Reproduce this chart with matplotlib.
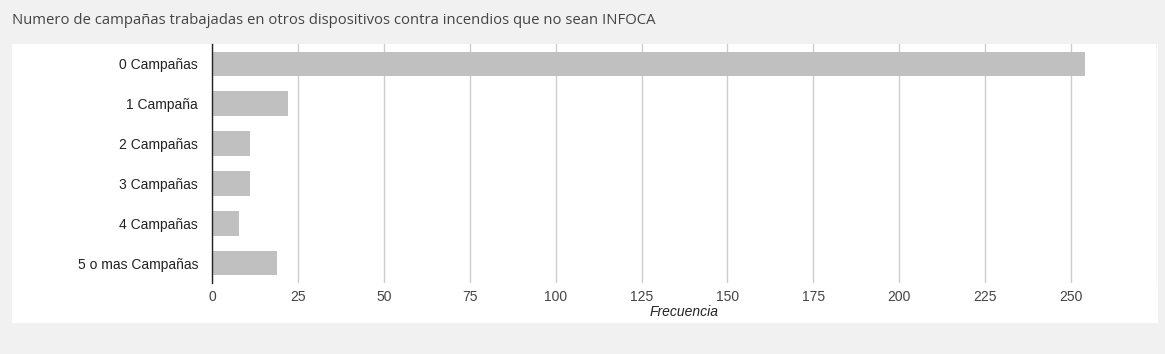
import matplotlib
matplotlib.use("Agg")
import matplotlib.pyplot as plt
from matplotlib.patches import Rectangle

categorias = ["0 Campañas", "1 Campaña", "2 Campañas", "3 Campañas",
              "4 Campañas", "5 o mas Campañas"]
frecuencia = [254, 22, 11, 11, 8, 19]
ticks_x = [0, 25, 50, 75, 100, 125, 150, 175, 200, 225, 250, 275]
etiquetas_x = ["0", "25", "50", "75", "100", "125", "150", "175",
               "200", "225", "250", ""]

W, H = 1165, 354
fig = plt.figure(figsize=(W / 100, H / 100), dpi=100)
fig.patch.set_facecolor("#f1f1f1")

# panel blanco
fig.patches.append(Rectangle((12 / W, 1 - 323 / H), (1158 - 12) / W, (323 - 44) / H,
                             transform=fig.transFigure, facecolor="white",
                             edgecolor="none", zorder=-10))

fig.text(12 / W, 1 - 20 / H, "Numero de campañas trabajadas en otros dispositivos contra incendios que no sean INFOCA",
         fontsize=10.7, color="#444444", family="Open Sans", va="center", ha="left")

ax = fig.add_axes([212 / W, 1 - 283 / H, (1157 - 212) / W, (283 - 44) / H])
ax.set_facecolor("white")
ax.set_zorder(1)

y = list(range(len(categorias)))
ax.barh(y, frecuencia, height=0.62, color="#c0c0c0", zorder=2)

ax.set_xlim(0, 275)
ax.set_ylim(len(categorias) - 0.5, -0.5)
ax.set_yticks(y)
ax.set_yticklabels(categorias, fontsize=10, color="#222222", family="Liberation Sans")
ax.set_xticks(ticks_x)
ax.set_xticklabels(etiquetas_x, fontsize=10, color="#444444", family="Liberation Sans")
ax.tick_params(axis="both", length=0)
ax.tick_params(axis="y", pad=10)
ax.tick_params(axis="x", pad=5)

ax.grid(axis="x", color="#cccccc", linewidth=1, zorder=1)
for s in ["top", "right", "bottom"]:
    ax.spines[s].set_visible(False)
ax.spines["left"].set_color("#222222")
ax.spines["left"].set_linewidth(1)
ax.spines["left"].set_zorder(3)

ax.set_xlabel("Frecuencia", fontsize=10, style="italic", color="#222222",
              family="Liberation Sans", labelpad=1)

fig.savefig("out.png", dpi=100, facecolor=fig.get_facecolor())
